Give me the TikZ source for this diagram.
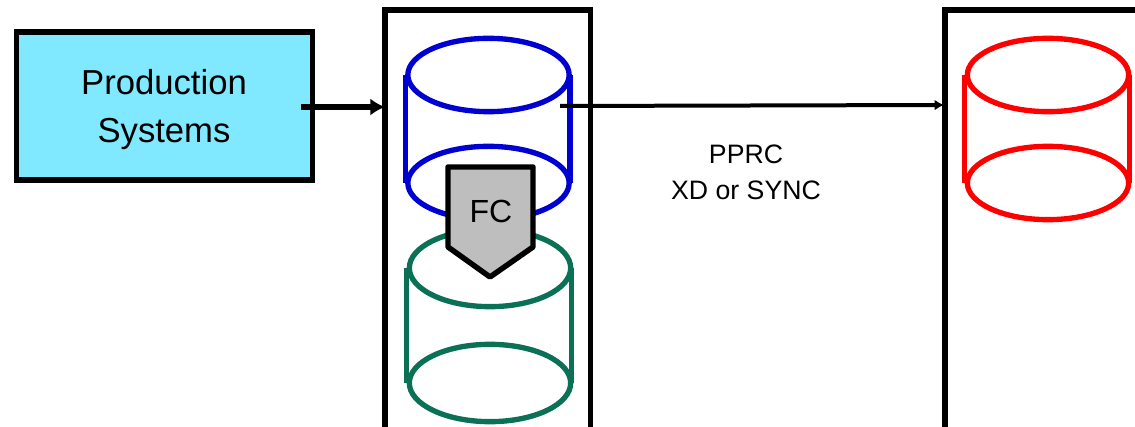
\documentclass[tikz,border=0pt]{standalone}
\usepackage{fontspec}
\setmainfont{Liberation Sans}
\usetikzlibrary{shapes.geometric, arrows.meta, positioning, calc}
\definecolor{myBlue}{RGB}{0,0,208}
\definecolor{myGreen}{RGB}{10,112,86}
\definecolor{myRed}{RGB}{255,0,0}
\definecolor{myCyan}{RGB}{128,232,255}
\definecolor{myGray}{RGB}{190,190,190}

\begin{document}
\begin{tikzpicture}[x=0.75pt, y=-0.75pt,
	disk/.style={draw, ellipse, line width=4pt, minimum width=121pt, minimum height=55pt, inner sep=0pt},
	side/.style={line width=4pt},
	frame/.style={draw=black, line width=4.1pt, outer sep=0pt, minimum width=154pt, minimum height=400pt, anchor=north west},
	flow/.style={-{Latex[length=11pt, width=13pt]}, black, line width=3.9pt},
	link/.style={-{Latex[length=7pt, width=8pt]}, black, line width=3pt}]
	\useasboundingbox (0,0) rectangle (1135,427);
	% Source box
	\node[draw=black, line width=3.9pt, fill=myCyan, minimum width=222pt, minimum height=111pt] (prod) at (164.3,106) {};
	\node[align=center, font=\fontsize{26}{36}\selectfont] (prodText) at (164,110) {Production\\Systems};
	% Storage frames
	\node[frame] (siteA) at (385,10) {};
	\node[frame] (siteB) at (945,10) {};
	% Blue disk
	\node[disk, myBlue] (blueTop) at (488.5,75) {};
	\node[disk, myBlue] (blueBot) at (488.5,183) {};
	\draw[side, myBlue] (blueTop.west) -- (blueBot.west);
	\draw[side, myBlue] ([xshift=-1.5pt]blueTop.east) -- ([xshift=-1.5pt]blueBot.east);
	% Green disk
	\node[disk, myGreen, minimum height=58pt] (greenTop) at (490,268) {};
	\node[disk, myGreen, minimum height=58pt] (greenBot) at (490,383) {};
	\draw[side, myGreen] (greenTop.west) -- (greenBot.west);
	\draw[side, myGreen] ([xshift=-1.5pt]greenTop.east) -- ([xshift=-1.5pt]greenBot.east);
	% Red disk
	\node[disk, myRed] (redTop) at (1048,75) {};
	\node[disk, myRed] (redBot) at (1048,183) {};
	\draw[side, myRed] (redTop.west) -- (redBot.west);
	\draw[side, myRed] ([xshift=-1.5pt]redTop.east) -- ([xshift=-1.5pt]redBot.east);
	% FlashCopy marker
	\draw[line width=4.1pt, fill=myGray, line join=round] (448,167) -- (533,167) -- (533,247) -- (490,277) -- (448,247) -- cycle;
	\node[font=\fontsize{24}{28}\selectfont] (fc) at (491,211) {FC};
	% Connectors
	\coordinate (prodOut) at (301,107);
	\coordinate (blueOut) at (560,106);
	\coordinate (redIn) at (944,105);
	\draw[flow] (prodOut) -- (prodOut -| siteA.west);
	\draw[link] (blueOut) -- (redIn);
	% Link label
	\node[align=center, font=\fontsize{20}{27}\selectfont] (pprc) at (746,172) {PPRC\\XD or SYNC};
\end{tikzpicture}
\end{document}
